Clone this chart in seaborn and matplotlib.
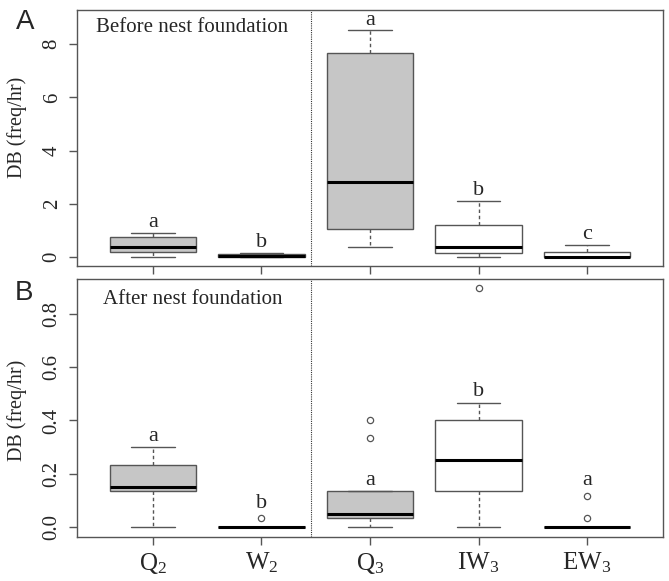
import numpy as np
import pandas as pd
import matplotlib
matplotlib.use("Agg")
import matplotlib.pyplot as plt
import seaborn as sns

# ---------------- data ----------------
groups = ["Q2", "W2", "Q3", "IW3", "EW3"]
tick_labels = [r"$\mathregular{Q_2}$", r"$\mathregular{W_2}$", r"$\mathregular{Q_3}$",
               r"$\mathregular{IW_3}$", r"$\mathregular{EW_3}$"]
box_colors = ["#c6c6c6", "#c6c6c6", "#c6c6c6", "#ffffff", "#ffffff"]

# Panel A: before nest foundation (DB, freq/hr)
before_Q2 = [0.0, 0.08, 0.17, 0.26, 0.36, 0.52, 0.75, 0.82, 0.89]
before_W2 = [0.0, 0.0, 0.0, 0.01, 0.02, 0.05, 0.10, 0.12, 0.14]
before_Q3 = [0.39, 0.70, 1.05, 1.90, 2.81, 5.20, 7.65, 8.10, 8.53]
before_IW3 = [0.01, 0.08, 0.14, 0.25, 0.36, 0.75, 1.20, 1.60, 2.10]
before_EW3 = [0.0, 0.0, 0.0, 0.0, 0.0, 0.08, 0.20, 0.31, 0.45]

# Panel B: after nest foundation (DB, freq/hr)
after_Q2 = [0.0, 0.07, 0.133, 0.14, 0.148, 0.19, 0.233, 0.27, 0.30]
after_W2 = [0.0, 0.0, 0.0, 0.0, 0.0, 0.0, 0.0, 0.0, 0.0, 0.033]
after_Q3 = [0.0, 0.017, 0.028, 0.032, 0.033, 0.04, 0.048, 0.067, 0.10, 0.133, 0.133, 0.333, 0.40]
after_IW3 = [0.0, 0.033, 0.10, 0.133, 0.15, 0.20, 0.25, 0.30, 0.35, 0.40, 0.43, 0.467, 0.90]
after_EW3 = [0.0, 0.0, 0.0, 0.0, 0.0, 0.0, 0.0, 0.0, 0.0, 0.0, 0.033, 0.117]

letters_A = ["a", "b", "a", "b", "c"]
letters_B = ["a", "b", "a", "b", "a"]
letter_y_A = [1.28, 0.53, 8.9, 2.5, 0.83]
letter_y_B = [0.339, 0.088, 0.173, 0.508, 0.173]

yticks_A = [0, 2, 4, 6, 8]
yticks_B = [0.0, 0.2, 0.4, 0.6, 0.8]
ytick_labels_B = ["0.0", "0.2", "0.4", "0.6", "0.8"]

panel_titles = ["Before nest foundation", "After nest foundation"]
ylabel = "DB (freq/hr)"


def long_df(series):
    rows = []
    for g, vals in zip(groups, series):
        for v in vals:
            rows.append({"group": g, "value": v})
    return pd.DataFrame(rows)


df_A = long_df([before_Q2, before_W2, before_Q3, before_IW3, before_EW3])
df_B = long_df([after_Q2, after_W2, after_Q3, after_IW3, after_EW3])

# ---------------- style ----------------
sns.set_theme(style="white")
plt.rcParams["font.family"] = ["Liberation Serif", "DejaVu Serif"]
plt.rcParams["mathtext.default"] = "regular"

EDGE = "#555555"

fig = plt.figure(figsize=(6.69, 5.81), dpi=100)
ax_A = fig.add_axes([0.1151, 0.5422, 0.876, 0.4414])
ax_B = fig.add_axes([0.1151, 0.0763, 0.876, 0.4430])

palette = dict(zip(groups, box_colors))


def draw(ax, df, ylim, yticks, yticklabels, letters, letter_y, title, title_y,
         show_xlabels, ylabel_y):
    sns.boxplot(data=df, x="group", y="value", hue="group", order=groups,
                hue_order=groups, palette=palette, saturation=1, width=0.8,
                linecolor=EDGE, linewidth=1.0, whis=1.5, legend=False, ax=ax,
                whiskerprops={"linestyle": (0, (2.5, 2)), "color": EDGE},
                capprops={"color": EDGE},
                medianprops={"color": "black", "linewidth": 2.2},
                flierprops={"marker": "o", "markersize": 4.5,
                            "markerfacecolor": "none",
                            "markeredgecolor": EDGE, "markeredgewidth": 0.9})
    ax.set_xlim(-0.7, 4.7)
    ax.set_ylim(*ylim)
    ax.set_yticks(yticks)
    ax.set_yticklabels(yticklabels, rotation=90, va="center")
    ax.set_xticks(range(len(groups)))
    if show_xlabels:
        ax.set_xticklabels(tick_labels)
    else:
        ax.set_xticklabels([])
    ax.tick_params(axis="both", which="major", length=6, width=1,
                   color=EDGE, direction="out", bottom=True, left=True,
                   labelsize=15, pad=5)
    ax.tick_params(axis="x", labelsize=18, pad=4)
    for sp in ax.spines.values():
        sp.set_color(EDGE)
        sp.set_linewidth(1.0)
    ax.set_xlabel("")
    ax.set_ylabel(ylabel, fontsize=14.5)
    ax.yaxis.set_label_coords(-0.085, ylabel_y)
    ax.axvline(1.46, color="#333333", linestyle=(0, (1, 1)), linewidth=0.8)
    for i, (lt, ly) in enumerate(zip(letters, letter_y)):
        ax.text(i, ly, lt, ha="center", va="center", fontsize=16)
    ax.text(0.197, title_y, title, transform=ax.transAxes, ha="center",
            va="center", fontsize=15)


draw(ax_A, df_A, (-0.34, 9.3), yticks_A, [str(t) for t in yticks_A],
     letters_A, letter_y_A, panel_titles[0], 0.93, False, 0.54)
draw(ax_B, df_B, (-0.038, 0.932), yticks_B, ytick_labels_B,
     letters_B, letter_y_B, panel_titles[1], 0.922, True, 0.49)

fig.text(25 / 669, 1 - 22 / 581, "A", fontsize=20, ha="center", va="center",
         family=["Liberation Sans", "DejaVu Sans"])
fig.text(24 / 669, 1 - 293 / 581, "B", fontsize=20, ha="center", va="center",
         family=["Liberation Sans", "DejaVu Sans"])

fig.savefig("out.png", dpi=100)
